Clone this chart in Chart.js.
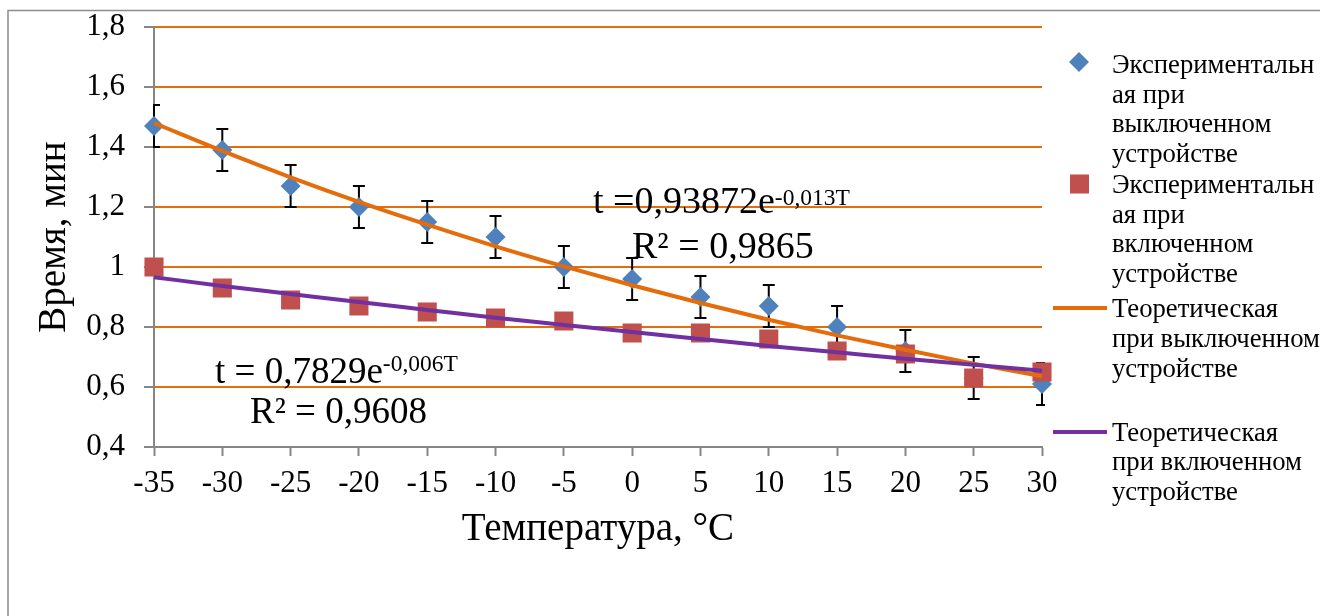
<!DOCTYPE html>
<html>
<head>
<meta charset="utf-8">
<script src="https://cdn.jsdelivr.net/npm/chart.js@4.4.1/dist/chart.umd.min.js"></script>
<style>
  html, body { margin: 0; padding: 0; background: #fff; overflow: hidden; }
  canvas { display: block; }
</style>
</head>
<body>
<canvas id="chart" width="1320" height="616"></canvas>
<script>
// Temperature categories, °C
const temperatures = ['-35', '-30', '-25', '-20', '-15', '-10', '-5', '0', '5', '10', '15', '20', '25', '30'];

// Measured time, min — device switched off (with error margin)
const timeDeviceOff = [1.47, 1.39, 1.27, 1.20, 1.15, 1.10, 1.00, 0.96, 0.90, 0.87, 0.80, 0.72, 0.63, 0.61];
const errorDeviceOff = [0.07, 0.07, 0.07, 0.07, 0.07, 0.07, 0.07, 0.07, 0.07, 0.07, 0.07, 0.07, 0.07, 0.07];

// Measured time, min — device switched on
const timeDeviceOn = [1.00, 0.93, 0.89, 0.87, 0.85, 0.83, 0.82, 0.78, 0.78, 0.76, 0.72, 0.71, 0.63, 0.65];

// Theoretical curves t = a·e^(b·T), tabulated per category
const theoryDeviceOff = [1.480, 1.387, 1.299, 1.217, 1.141, 1.069, 1.002, 0.939, 0.880, 0.824, 0.772, 0.724, 0.678, 0.636];
const theoryDeviceOn = [0.966, 0.937, 0.910, 0.883, 0.857, 0.831, 0.807, 0.783, 0.760, 0.737, 0.716, 0.694, 0.674, 0.654];

// Y axis range and step
const yMin = 0.4, yMax = 1.8, yStep = 0.2;

// Series names as shown in the legend (wrapped lines)
const legendLines = [
  ['Экспериментальн', 'ая при', 'выключенном', 'устройстве'],
  ['Экспериментальн', 'ая при', 'включенном', 'устройстве'],
  ['Теоретическая', 'при выключенном', 'устройстве'],
  ['Теоретическая', 'при включенном', 'устройстве']
];

// Fit equations
const fitLabels = [
  { main: 't =0,93872e', sup: '-0,013T', r2: 'R² = 0,9865' },
  { main: 't = 0,7829e', sup: '-0,006T', r2: 'R² = 0,9608' }
];

const FONT = "'Liberation Serif', 'Times New Roman', serif";
const ORANGE = '#E46C0A';
const PURPLE = '#7030A0';
const BLUE = '#4F81BD';
const RED = '#C0504D';
const AXIS = '#868686';

// White page with the chart's frame (left and top edges)
const framePlugin = {
  id: 'frame',
  beforeDraw(chart) {
    const ctx = chart.ctx;
    ctx.save();
    ctx.fillStyle = '#fff';
    ctx.fillRect(0, 0, chart.width, chart.height);
    ctx.strokeStyle = '#8c8c8c';
    ctx.lineWidth = 1.5;
    ctx.beginPath();
    ctx.moveTo(8, chart.height);
    ctx.lineTo(8, 10.5);
    ctx.lineTo(chart.width, 10.5);
    ctx.stroke();
    ctx.restore();
  }
};

// Vertical error bars for the "device off" measurements
const errorBarPlugin = {
  id: 'errorBars',
  beforeDatasetsDraw(chart) {
    const { ctx, chartArea: a, scales: { x, y } } = chart;
    ctx.save();
    ctx.beginPath();
    ctx.rect(a.left - 1, 0, a.right - a.left + 4, chart.height);
    ctx.clip();
    ctx.strokeStyle = '#000';
    ctx.lineWidth = 2;
    const cap = 6;
    timeDeviceOff.forEach((v, i) => {
      const px = x.getPixelForValue(i);
      const top = y.getPixelForValue(v + errorDeviceOff[i]);
      const bot = y.getPixelForValue(v - errorDeviceOff[i]);
      ctx.beginPath();
      ctx.moveTo(px, top); ctx.lineTo(px, bot);
      ctx.moveTo(px - cap, top); ctx.lineTo(px + cap, top);
      ctx.moveTo(px - cap, bot); ctx.lineTo(px + cap, bot);
      ctx.stroke();
    });
    ctx.restore();
  }
};

// Trend equations and R² next to the curves
const equationPlugin = {
  id: 'equations',
  afterDatasetsDraw(chart) {
    const ctx = chart.ctx;
    const spots = [
      { x: 593, y: 213, rx: 632, ry: 258, supDy: -8, size: 38 },
      { x: 215, y: 383, rx: 250, ry: 423, supDy: -12, size: 37 }
    ];
    ctx.save();
    ctx.fillStyle = '#000';
    ctx.textBaseline = 'alphabetic';
    ctx.textAlign = 'left';
    fitLabels.forEach((f, i) => {
      const s = spots[i];
      ctx.font = s.size + 'px ' + FONT;
      ctx.fillText(f.main, s.x, s.y);
      const w = ctx.measureText(f.main).width;
      ctx.fillText(f.r2, s.rx, s.ry);
      ctx.font = '23.5px ' + FONT;
      ctx.fillText(f.sup, s.x + w, s.y + s.supDy);
    });
    ctx.restore();
  }
};

// Legend with wrapped series names on the right
const legendPlugin = {
  id: 'sideLegend',
  afterDraw(chart) {
    const ctx = chart.ctx;
    const textX = 1112;
    const entries = [
      { kind: 'diamond', color: BLUE, cy: 62, baselines: [73, 102.5, 132, 161.5] },
      { kind: 'square', color: RED, cy: 184, baselines: [193, 222.5, 252, 281.5] },
      { kind: 'line', color: ORANGE, cy: 308, baselines: [317, 347, 376.5] },
      { kind: 'line', color: PURPLE, cy: 432, baselines: [441, 470, 499.5] }
    ];
    ctx.save();
    entries.forEach((e, i) => {
      ctx.fillStyle = e.color;
      ctx.strokeStyle = e.color;
      if (e.kind === 'diamond') {
        ctx.beginPath();
        ctx.moveTo(1079, e.cy - 10); ctx.lineTo(1089, e.cy);
        ctx.lineTo(1079, e.cy + 10); ctx.lineTo(1069, e.cy);
        ctx.closePath(); ctx.fill();
      } else if (e.kind === 'square') {
        ctx.fillRect(1070, e.cy - 9.5, 19, 19);
      } else {
        ctx.lineWidth = 4;
        ctx.beginPath();
        ctx.moveTo(1053, e.cy); ctx.lineTo(1107, e.cy);
        ctx.stroke();
      }
      ctx.fillStyle = '#000';
      ctx.font = '26.7px ' + FONT;
      ctx.textBaseline = 'alphabetic';
      legendLines[i].forEach((line, k) => ctx.fillText(line, textX, e.baselines[k]));
    });
    ctx.restore();
  }
};

new Chart(document.getElementById('chart'), {
  type: 'line',
  data: {
    labels: temperatures,
    datasets: [
      {
        label: 'Экспериментальная при выключенном устройстве',
        data: timeDeviceOff,
        showLine: false,
        pointStyle: 'rectRot',
        pointRadius: 10,
        pointBorderWidth: 0,
        pointBackgroundColor: BLUE,
        pointBorderColor: BLUE,
        order: 4
      },
      {
        label: 'Экспериментальная при включенном устройстве',
        data: timeDeviceOn,
        showLine: false,
        pointStyle: 'rect',
        pointRadius: 13.5,
        pointBorderWidth: 0,
        pointBackgroundColor: RED,
        pointBorderColor: RED,
        order: 3
      },
      {
        label: 'Теоретическая при выключенном устройстве',
        data: theoryDeviceOff,
        borderColor: ORANGE,
        borderWidth: 4,
        pointRadius: 0,
        cubicInterpolationMode: 'monotone',
        fill: false,
        order: 2
      },
      {
        label: 'Теоретическая при включенном устройстве',
        data: theoryDeviceOn,
        borderColor: PURPLE,
        borderWidth: 4,
        pointRadius: 0,
        cubicInterpolationMode: 'monotone',
        fill: false,
        order: 1
      }
    ]
  },
  options: {
    responsive: false,
    animation: false,
    devicePixelRatio: 1,
    layout: { padding: { left: 0, right: 278, top: 27, bottom: 0 } },
    plugins: {
      legend: { display: false },
      tooltip: { enabled: false }
    },
    scales: {
      x: {
        type: 'category',
        offset: false,
        grid: {
          offset: false,
          drawOnChartArea: false,
          drawTicks: true,
          tickLength: 9,
          tickColor: AXIS,
          tickWidth: 2
        },
        border: { color: AXIS, width: 2 },
        ticks: {
          color: '#000',
          font: { family: FONT, size: 31 },
          padding: 9.5,
          autoSkip: false,
          maxRotation: 0
        },
        title: {
          display: true,
          text: 'Температура, °C',
          color: '#000',
          font: { family: FONT, size: 39 },
          padding: { top: 0, bottom: 62.6 }
        },
        afterFit(scale) {
          scale.height = 169;
          scale.paddingLeft = 0;
          scale.paddingRight = 0;
        }
      },
      y: {
        min: yMin,
        max: yMax,
        grid: {
          color: ORANGE,
          lineWidth: 2,
          drawTicks: true,
          tickLength: 10,
          tickColor: AXIS,
          tickWidth: 2
        },
        border: { color: AXIS, width: 2 },
        ticks: {
          stepSize: yStep,
          color: '#000',
          font: { family: FONT, size: 31 },
          padding: 19,
          callback: v => String(Math.round(v * 10) / 10).replace('.', ',')
        },
        title: {
          display: true,
          text: 'Время, мин',
          color: '#000',
          font: { family: FONT, size: 39 },
          padding: { top: 31.6, bottom: 0 }
        },
        afterFit(scale) {
          scale.width = 154;
          scale.paddingTop = 0;
          scale.paddingBottom = 0;
        }
      }
    }
  },
  plugins: [framePlugin, errorBarPlugin, equationPlugin, legendPlugin]
});
</script>
</body>
</html>
